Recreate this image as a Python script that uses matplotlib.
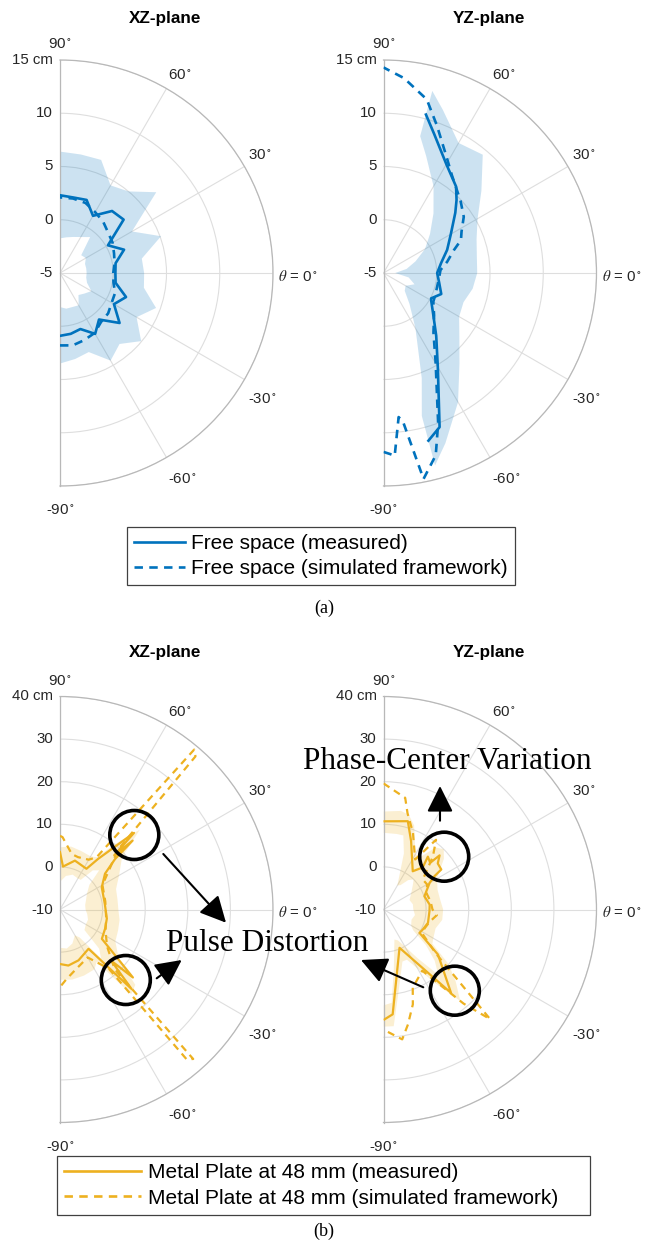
import numpy as np
import matplotlib
matplotlib.use('Agg')
import matplotlib.pyplot as plt
from matplotlib.patches import Circle

plt.rcParams['font.family'] = ['Liberation Sans', 'DejaVu Sans']
plt.rcParams['mathtext.fontset'] = 'stix'

BLUE = '#0072BD'
GOLD = '#EDB120'
TXT = '#262626'

# ---------------- (a) free space ----------------
# XZ-plane (angle in deg, phase-center offset in cm)
th_xz_a = [-90, -80, -70, -60, -50, -40, -30, -20, -10, 0, 10, 20, 30, 40, 50, 60, 70, 80, 90]
meas_xz_a = [0.9, 0.8, 0.6, 1.6, 0.7, 2.3, 0.85, 1.6, 0.3, 0.2, 0.3, 1.4, 0.2, 2.8, 2.6, 1.2, 2.3, 2.2, 2.3]
sim_xz_a = [1.8, 1.9, 1.7, 1.5, 1.0, 0.9, 0.6, 0.5, 0.1, 0.0, 0.2, 0.4, 0.7, 0.9, 1.3, 1.6, 2.0, 2.1, 2.1]
lo_xz_a = [-1.8, -1.6, -1.6, -1.5, -2.3, -2.0, -1.6, -2.3, -2.5, -2.5, -2.5, -2.5, -2.2, -2.4, -0.6, -1.1, -1.4, -1.6, -1.75]
up_xz_a = [3.5, 3.2, 2.9, 4.5, 3.7, 4.95, 3.3, 4.6, 3.0, 2.9, 2.8, 5.1, 2.8, 6.8, 5.0, 4.5, 6.3, 6.3, 6.4]

# YZ-plane
th_m_yz_a = [-75, -70, -60, -50, -40, -30, -28, -20, -10, 0, 10, 20, 30, 40, 45, 50, 60, 70, 75]
meas_yz_a = [11.3, 10.4, 5.2, 2.7, 1.1, 0.17, 0.07, 0.77, 0.31, 0.04, 0.5, 1.36, 2.3, 3.8, 4.7, 5.6, 6.8, 8.9, 10.4]
th_s_yz_a = [-90, -88, -86.5, -84, -82.5, -79, -74, -70, -60, -50, -40, -30, -22, -10, 0, 3, 10, 18, 23,
             28, 35, 43, 55, 61, 70, 76, 84, 90]
sim_yz_a = [11.8, 12.0, 12.2, 8.6, 9.1, 14.7, 12.8, 10.0, 4.8, 2.3, 1.2, 0.4, 0.27, 0.2, 0.3, 0.36, 1.07, 1.95, 2.9,
            3.3, 4.2, 4.9, 6.2, 7.3, 9.7, 11.8, 13.4, 14.3]
th_b_yz_a = [-75, -70, -60, -50, -40, -30, -20, -10, 0, 10, 20, 30, 40, 50, 60, 70, 75]
lo_yz_a = [8.9, 5.5, 1.0, -1.2, -2.4, -2.6, -1.9, -2.6, -3.9, -2.8, -1.8, -0.5, 0.7, 2.3, 4.4, 6.7, 8.3]
up_yz_a = [13.7, 12.0, 9.0, 6.1, 4.3, 3.2, 3.0, 3.5, 3.8, 3.9, 4.3, 5.2, 7.0, 9.5, 9.1, 11.3, 12.7]

# ---------------- (b) metal plate at 48 mm ----------------
th_m_xz_b = [90, 86, 73, 57, 53, 46, 45, 43.5, 42.5, 38.5, 28, 7, -11, -23, -35, -43, -45, -48, -54, -70, -81.5, -90]
meas_xz_b = [3.5, 0.1, 2.0, 1.4, 4.9, 15.0, 8.0, 13.5, 7.5, 3.5, 1.1, 0.6, 1.2, 1.5, 2.0, 13.4, 7.0, 15.1, 1.4, 2.7, 3.3, 2.8]
th_s_xz_b = [90, 88, 78, 71, 60, 55, 50, 48.5, 46, 44, 40, 30, 10, -10, -25, -38, -47.5, -48.3, -49.8, -50.5,
             -60, -75, -85, -90]
sim_xz_b = [7.3, 7.0, 3.3, 3.0, 3.5, 5.0, 39.0, 38.0, 10.0, 8.0, 5.4, 1.5, 0.8, 1.0, 1.8, 4.0, 9.0, 37.0, 36.0, 8.0,
            3.0, 4.5, 6.5, 8.2]
th_b_xz_b = [-90, -80, -70, -60, -55, -50, -45, -40, -30, -20, -10, 0, 10, 20, 30, 40, 45, 50, 55, 60, 70, 80, 90]
lo_xz_b = [-1.0, -0.7, -1.5, -3.0, -2.0, 5.0, 3.0, -2.5, -3.0, -3.0, -3.5, -4.0, -4.0, -3.5, -2.7, -1.0, 3.0, 2.0,
           -1.5, -1.6, -1.3, -2.0, -3.5]
up_xz_b = [6.5, 6.7, 6.5, 6.2, 5.0, 16.0, 15.0, 8.0, 5.0, 4.5, 4.2, 3.7, 3.7, 4.0, 6.0, 9.0, 16.5, 10.0,
           5.0, 4.4, 4.6, 5.0, 4.6]

th_m_yz_b = [90, 74.6, 68, 52.6, 47, 50, 45, 44, 40.3, 34.7, 33.2, 30, 18, 6, -2, -16.7, -27, -33, -39.6, -51,
             -67.3, -85, -89.5]
meas_yz_b = [10.7, 11.5, 7.3, 1.3, 3.5, 6.2, 5.5, 8.3, 6.7, 6.5, 4.3, 2.5, 0.1, 0.9, 0.8, 0.9, 0.35, 0.07, 6.6, 15.2,
             -0.25, 14.7, 15.8]
th_s_yz_b = [90, 79, 76, 69, 57.7, 53, 47, 37.3, 30, 20, 10, 0, -6, -15, -25, -32, -40, -45.8, -49.6, -57.6,
             -69.5, -72.8, -78, -81.8, -90]
sim_yz_b = [19.6, 16.7, 13.3, 9.3, 3.9, 10.5, 7.0, 1.6, 1.8, 0.8, 1.2, 1.5, 2.6, 1.2, 0.6, 0.8, 6.0, 25.9, 19.0, 7.0,
            9.6, 13.3, 17.6, 20.8, 18.2]
th_b_yz_b = [-90, -85, -80, -70, -65, -60, -55, -50, -45, -40, -35, -30, -20, -10, 0, 10, 20, 30, 40, 45, 50, 55,
             60, 70, 75, 80, 90]
lo_yz_b = [12.5, 12.0, 4.0, -2.5, -2.0, 0.0, 4.0, 10.0, 7.0, 3.0, -1.5, -2.5, -3.0, -2.5, -3.0, -3.0, -3.5, -2.5,
           -1.0, 0.0, -1.0, -3.0, -3.5, 4.0, 8.0, 8.0, 8.0]
up_yz_b = [17.5, 17.5, 10.0, 3.0, 3.0, 6.0, 11.0, 18.0, 14.0, 10.0, 4.0, 3.5, 3.0, 4.0, 4.0, 3.5, 3.5, 4.5,
           8.5, 10.0, 9.0, 5.0, 5.0, 11.0, 13.0, 13.5, 13.0]

W, H = 652, 1245
fig = plt.figure(figsize=(W / 100, H / 100), dpi=100)


def rect(cx, cy, R=213):
    # half-disc polar axes: matplotlib fits a full 2R x 2R box, so give it twice the wedge size
    xc = cx + R / 2
    return [(xc - R) / W, 1 - (cy + 2 * R) / H, 2 * R / W, 4 * R / H]


# label offsets (points) for the angle ticks
ang_lab = {90: (0, 11.5), 60: (9.7, 9.7), 30: (11.2, 8.3), -30: (13, -13.7), -60: (11.5, -15.5), -90: (0, -17.3)}


def frame(ax, rmin, rmax, step):
    ax.set_thetamin(-90)
    ax.set_thetamax(90)
    ax.set_rlim(rmin, rmax)
    ax.set_thetagrids([-90, -60, -30, 0, 30, 60, 90], labels=[''] * 7)
    rt = np.arange(rmin + step, rmax + 0.01, step)
    ax.set_rgrids(rt, labels=[''] * len(rt))
    ax.grid(color='#dedede', lw=0.8)
    ax.set_axisbelow(True)
    for s in ax.spines.values():
        s.set_color('#b8b8b8')
        s.set_linewidth(0.9)
    for r in np.arange(rmin, rmax + 0.01, step):
        lab = f'{r:g} cm' if r == rmax else f'{r:g}'
        ax.annotate(lab, xy=(np.pi / 2, r), xytext=(-5, 0), textcoords='offset points',
                    ha='right', va='center', fontsize=10.8, color=TXT, annotation_clip=False)
    for d, off in ang_lab.items():
        ax.annotate(f'{d}$^\\circ$', xy=(np.radians(d), rmax), xytext=off, textcoords='offset points',
                    ha='center', va='center', fontsize=10.8, color=TXT, annotation_clip=False)
    ax.annotate(r'$\theta$ = 0$^\circ$', xy=(0, rmax), xytext=(3.6, -2.5), textcoords='offset points',
                ha='left', va='center', fontsize=10.8, color=TXT, annotation_clip=False)


def draw(ax, th_m, r_m, th_s, r_s, th_b, lo, up, color, lw):
    tb = np.radians(th_b)
    ax.fill(np.concatenate([tb, tb[::-1]]), np.concatenate([up, np.array(lo)[::-1]]),
            color=color, alpha=0.2, lw=0, zorder=2)
    ax.plot(np.radians(th_s), r_s, color=color, lw=lw, ls=(0, (3.2, 2.4)), zorder=3)
    ax.plot(np.radians(th_m), r_m, color=color, lw=lw, zorder=4)


ax1 = fig.add_axes(rect(60, 273), projection='polar')
frame(ax1, -5, 15, 5)
draw(ax1, th_xz_a, meas_xz_a, th_xz_a, sim_xz_a, th_xz_a, lo_xz_a, up_xz_a, BLUE, 1.9)

ax2 = fig.add_axes(rect(383.5, 273), projection='polar')
frame(ax2, -5, 15, 5)
draw(ax2, th_m_yz_a, meas_yz_a, th_s_yz_a, sim_yz_a, th_b_yz_a, lo_yz_a, up_yz_a, BLUE, 1.9)

ax3 = fig.add_axes(rect(60, 909.5), projection='polar')
frame(ax3, -10, 40, 10)
draw(ax3, th_m_xz_b, meas_xz_b, th_s_xz_b, sim_xz_b, th_b_xz_b, lo_xz_b, up_xz_b, GOLD, 1.6)

ax4 = fig.add_axes(rect(383.5, 909.5), projection='polar')
frame(ax4, -10, 40, 10)
draw(ax4, th_m_yz_b, meas_yz_b, th_s_yz_b, sim_yz_b, th_b_yz_b, lo_yz_b, up_yz_b, GOLD, 1.6)

for x, y, t in [(165, 18, 'XZ-plane'), (489, 18, 'YZ-plane'), (165, 653, 'XZ-plane'), (489, 653, 'YZ-plane')]:
    fig.text(x / W, 1 - y / H, t, ha='center', va='center', fontsize=12.3, fontweight='bold', color='k')

# legends
la = [plt.Line2D([], [], color=BLUE, lw=1.9), plt.Line2D([], [], color=BLUE, lw=1.9, ls=(0, (3.2, 2.4)))]
lega = fig.legend(la, ['Free space (measured)', 'Free space (simulated framework)'], loc='center',
                  bbox_to_anchor=(321 / W, 1 - 556 / H), fontsize=15, fancybox=False, edgecolor='#404040',
                  framealpha=1, handlelength=2.45, handletextpad=0.3, labelspacing=0.3, borderpad=0.35,
                  borderaxespad=0)
lega.get_frame().set_linewidth(0.9)
lb = [plt.Line2D([], [], color=GOLD, lw=1.9), plt.Line2D([], [], color=GOLD, lw=1.9, ls=(0, (3.2, 2.4)))]
legb = fig.legend(lb, ['Metal Plate at 48 mm (measured)', 'Metal Plate at 48 mm (simulated framework)'],
                  loc='center', bbox_to_anchor=(57 / W, 1 - 1216 / H, 533 / W, 61 / H), mode='expand',
                  fontsize=15, fancybox=False, edgecolor='#404040', framealpha=1, handlelength=3.7,
                  handletextpad=0.3, labelspacing=0.3, borderpad=0.35, borderaxespad=0)
legb.get_frame().set_linewidth(0.9)

fig.text(324 / W, 1 - 608 / H, '(a)', ha='center', va='center', fontsize=13, family='Liberation Serif')
fig.text(324 / W, 1 - 1231 / H, '(b)', ha='center', va='center', fontsize=13, family='Liberation Serif')

# annotation overlay in pixel coordinates
ov = fig.add_axes([0, 0, 1, 1], zorder=10)
ov.set_xlim(0, W)
ov.set_ylim(H, 0)
ov.axis('off')
for cx, cy in [(134.3, 835), (125.8, 980), (444.2, 856.7), (454.8, 990.7)]:
    ov.add_patch(Circle((cx, cy), 24.5, fill=False, ec='k', lw=2.6))
arrow = dict(arrowstyle='-|>,head_length=0.8,head_width=0.4', mutation_scale=20, lw=1.5, color='k',
             shrinkA=0, shrinkB=0)
for (x0, y0), (x1, y1) in [((163.3, 854), (226, 922.7)), ((156.7, 978.3), (181.7, 960)),
                           ((440, 820.7), (440, 786)), ((423.3, 987.3), (361, 960))]:
    ov.annotate('', xy=(x1, y1), xytext=(x0, y0), arrowprops=arrow)
ov.text(166, 951, 'Pulse Distortion', ha='left', va='baseline', fontsize=22.5, family='Liberation Serif')
ov.text(303, 769, 'Phase-Center Variation', ha='left', va='baseline', fontsize=22.5, family='Liberation Serif')

fig.savefig('out.png', dpi=100)
